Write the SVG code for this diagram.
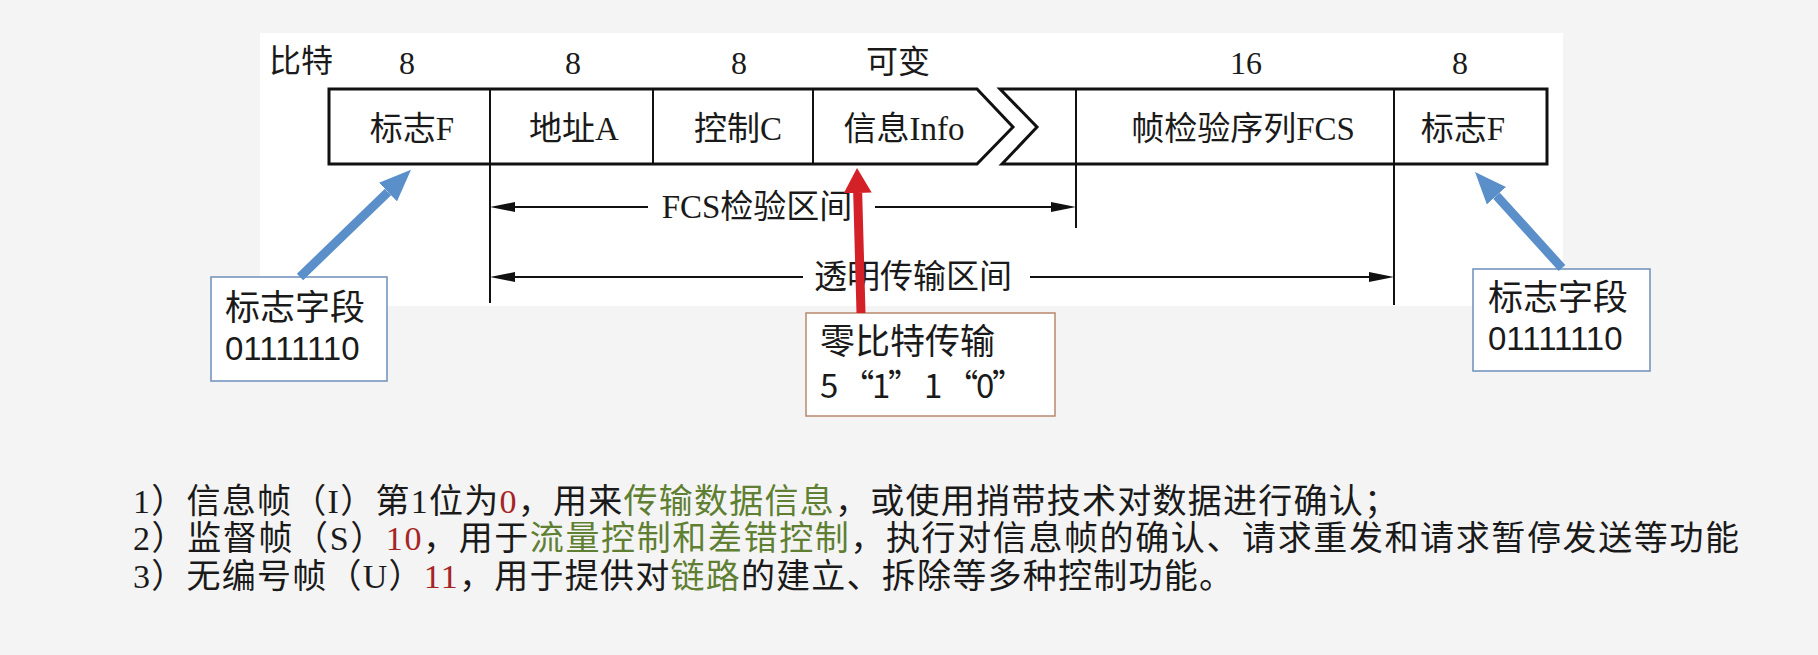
<svg xmlns="http://www.w3.org/2000/svg" width="1818" height="655" viewBox="0 0 1818 655">
<style>
.serif{font-family:"Liberation Serif","Noto Sans CJK SC",serif;fill:#1a1a1a}
.hdr{font-size:32px;text-anchor:middle}
.fld{font-size:33px;text-anchor:middle}
.frame{fill:#fff;stroke:#111;stroke-width:3;stroke-linejoin:miter}
.div{stroke:#111;stroke-width:2}
.dim{stroke:#111;stroke-width:2;fill:none}
.callout{fill:#fff;stroke:#6d8fba;stroke-width:1.5}
.callout2{fill:#fff;stroke:#b8876a;stroke-width:1.5}
.sans{font-family:"Liberation Sans","Noto Sans CJK SC",sans-serif;fill:#1a1a1a}
.cjk{font-family:"Noto Sans CJK SC",sans-serif;fill:#1a1a1a}
.big{font-size:35px}
.dig{font-size:33px}
.note{font-size:34px}
.red{fill:#a52424}
.grn{fill:#5f7f32}
.blue{stroke:#5b8fc9;stroke-width:9;fill:none}
.redar{stroke:#d42027;stroke-width:9;fill:none}
</style>
<defs>
<marker id="ahBlack" viewBox="0 0 25 10" refX="0" refY="5" markerWidth="25" markerHeight="10" markerUnits="userSpaceOnUse" orient="auto"><path d="M0,0 L25,5 L0,10 z" fill="#111"/></marker>
<marker id="ahBlue" viewBox="0 0 32 26" refX="0" refY="13" markerWidth="32" markerHeight="26" markerUnits="userSpaceOnUse" orient="auto"><path d="M0,0 L32,13 L0,26 z" fill="#5b8fc9"/></marker>
<marker id="ahRed" viewBox="0 0 25 28" refX="0" refY="14" markerWidth="25" markerHeight="28" markerUnits="userSpaceOnUse" orient="auto"><path d="M0,0 L25,14 L0,28 z" fill="#d42027"/></marker>
</defs>
<rect x="0" y="0" width="1818" height="655" fill="#f4f4f4"/>
<rect x="260" y="33" width="1303" height="273" fill="#ffffff"/>

<g id="header">
<text class="serif hdr" x="301" y="72">比特</text>
<text class="serif hdr" x="407" y="74">8</text>
<text class="serif hdr" x="573" y="74">8</text>
<text class="serif hdr" x="739" y="74">8</text>
<text class="serif hdr" x="898" y="73">可变</text>
<text class="serif hdr" x="1246" y="74">16</text>
<text class="serif hdr" x="1460" y="74">8</text>
</g>

<g id="frame">
<polygon class="frame" points="329,89 977,89 1013,127 977,164 329,164"/>
<polygon class="frame" points="1000,89 1547,89 1547,164 1002,164 1037,127"/>
</g>

<g id="field-flag-left">
<text class="serif fld" x="412" y="140">标志F</text>
</g>
<g id="field-address">
<line class="div" x1="490" y1="89" x2="490" y2="303"/>
<text class="serif fld" x="574" y="140">地址A</text>
</g>
<g id="field-control">
<line class="div" x1="653" y1="89" x2="653" y2="164"/>
<text class="serif fld" x="738" y="140">控制C</text>
</g>
<g id="field-info">
<line class="div" x1="813" y1="89" x2="813" y2="164"/>
<text class="serif fld" x="904" y="140">信息Info</text>
</g>
<g id="field-fcs">
<line class="div" x1="1076" y1="89" x2="1076" y2="228"/>
<text class="serif fld" x="1243" y="140">帧检验序列FCS</text>
</g>
<g id="field-flag-right">
<line class="div" x1="1394" y1="89" x2="1394" y2="305"/>
<text class="serif fld" x="1463" y="140">标志F</text>
</g>

<g id="label-fcs-range">
<text class="serif fld" x="757" y="218">FCS检验区间</text>
</g>
<g id="label-transparent-range">
<text class="serif fld" x="913" y="288">透明传输区间</text>
</g>

<g id="callout-flag-left">
<rect class="callout" x="211" y="277" width="176" height="104"/>
<text class="cjk big" x="225" y="320">标志字段</text>
<text class="sans dig" x="225" y="360">01111110</text>
</g>
<g id="callout-flag-right">
<rect class="callout" x="1473" y="269" width="177" height="102"/>
<text class="cjk big" x="1488" y="310">标志字段</text>
<text class="sans dig" x="1488" y="350">01111110</text>
</g>
<g id="callout-zero-bit">
<rect class="callout2" x="806" y="313" width="249" height="103"/>
<text class="cjk big" x="820" y="354">零比特传输</text>
<text class="cjk dig" x="820" y="398" textLength="205">5 “1” 1 “0”</text>
</g>

<g id="connectors">
<line class="dim" x1="648" y1="207" x2="515" y2="207" marker-end="url(#ahBlack)"/>
<line class="dim" x1="875" y1="207" x2="1051" y2="207" marker-end="url(#ahBlack)"/>
<line class="dim" x1="803" y1="277" x2="515" y2="277" marker-end="url(#ahBlack)"/>
<line class="dim" x1="1030" y1="277" x2="1369" y2="277" marker-end="url(#ahBlack)"/>
<line class="blue" x1="300" y1="277" x2="388" y2="192" marker-end="url(#ahBlue)"/>
<line class="blue" x1="1562" y1="268" x2="1496.5" y2="195.7" marker-end="url(#ahBlue)"/>
<line class="redar" x1="861" y1="313" x2="857.7" y2="193" marker-end="url(#ahRed)"/>
</g>

<g id="notes">
<text class="serif note" x="133" y="513" textLength="1265">1）信息帧（I）第1位为<tspan class="red">0</tspan>，用来<tspan class="grn">传输数据信息</tspan>，或使用捎带技术对数据进行确认；</text>
<text class="serif note" x="133" y="550" textLength="1606">2）监督帧（S）<tspan class="red">10</tspan>，用于<tspan class="grn">流量控制和差错控制</tspan>，执行对信息帧的确认、请求重发和请求暂停发送等功能</text>
<text class="serif note" x="133" y="588" textLength="1100">3）无编号帧（U）<tspan class="red">11</tspan>，用于提供对<tspan class="grn">链路</tspan>的建立、拆除等多种控制功能。</text>
</g>
</svg>
